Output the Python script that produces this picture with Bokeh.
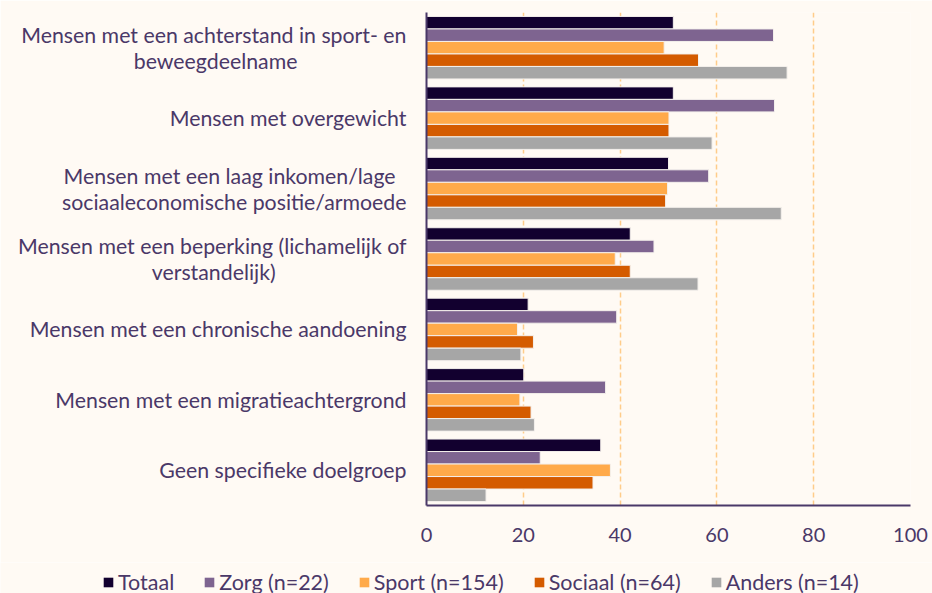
from bokeh.plotting import figure
from bokeh.layouts import column
from bokeh.models import FactorRange, Legend, LegendItem, ColumnDataSource, Range1d, FixedTicker
from bokeh.transform import dodge
from bokeh.embed import file_html
from bokeh.resources import INLINE

categories = [
    "Mensen met een achterstand in sport- en\nbeweegdeelname",
    "Mensen met overgewicht",
    "Mensen met een laag inkomen/lage\nsociaaleconomische positie/armoede",
    "Mensen met een beperking (lichamelijk of\nverstandelijk)",
    "Mensen met een chronische aandoening",
    "Mensen met een migratieachtergrond",
    "Geen specifieke doelgroep",
]
series = ["Totaal", "Zorg (n=22)", "Sport (n=154)", "Sociaal (n=64)", "Anders (n=14)"]
totaal = [51.0, 51.0, 50.0, 42.1, 21.0, 20.1, 36.0]
zorg = [71.7, 71.9, 58.3, 47.0, 39.3, 37.0, 23.5]
sport = [49.1, 50.1, 49.8, 39.0, 18.8, 19.3, 38.0]
sociaal = [56.2, 50.1, 49.4, 42.1, 22.1, 21.6, 34.4]
anders = [74.5, 59.0, 73.3, 56.1, 19.5, 22.3, 12.3]
x_ticks = [0, 20, 40, 60, 80, 100]

colors = ["#12002F", "#7E6490", "#FFAA4A", "#D45B00", "#A6A6A6"]
TEXT = "#4a3868"
BG = "#FFFAF4"
FONT = "Lato"

# axis factors: the category texts, with no-break spaces so that the lines
# of a two-line label sit centred under each other
NB = "\u00a0"
pad_first = {2: 2}
pad_second = {0: 20, 3: 24}
factors = []
for i, c in enumerate(categories):
    lines = c.split("\n")
    if i in pad_first:
        lines[0] = lines[0] + NB * pad_first[i]
    if i in pad_second:
        lines[1] = lines[1] + NB * pad_second[i]
    factors.append("\n".join(lines))

source = ColumnDataSource(dict(cat=factors, s0=totaal, s1=zorg, s2=sport, s3=sociaal, s4=anders))

p = figure(
    width=932, height=562,
    y_range=FactorRange(*reversed(factors), range_padding=0),
    x_range=Range1d(0, 100),
    output_backend="svg", toolbar_location=None,
    min_border_left=426, min_border_right=22, min_border_top=12, min_border_bottom=57,
)
p.background_fill_color = BG
p.border_fill_color = BG
p.outline_line_color = None

bh = 0.1775
offsets = [2 * bh, bh, 0, -bh, -2 * bh]
for i, col in enumerate(colors):
    p.hbar(y=dodge("cat", offsets[i], range=p.y_range), right="s%d" % i, left=0,
           height=bh, source=source, fill_color=col,
           line_color="#f4f0ec", line_width=1)

p.xaxis.ticker = FixedTicker(ticks=x_ticks)
for ax in (p.xaxis, p.yaxis):
    ax.axis_line_color = TEXT
    ax.axis_line_width = 2
    ax.major_tick_line_color = None
    ax.minor_tick_line_color = None
    ax.major_label_text_font = FONT
    ax.major_label_text_color = TEXT
p.xaxis.major_label_text_font_size = "20px"
p.xaxis.major_label_standoff = 16
p.yaxis.major_label_text_font_size = "21.3px"
p.yaxis.major_label_standoff = 14
p.yaxis.major_label_text_line_height = 1.0

p.xgrid.grid_line_color = "#FFCC8A"
p.xgrid.grid_line_width = 1.5
p.xgrid.grid_line_dash = "5 3"
p.ygrid.grid_line_color = None

# legend strip below the chart (its own swatch renderers are hidden)
leg = figure(
    width=932, height=31, x_range=Range1d(1000, 1001),
    y_range=FactorRange(*reversed(factors), range_padding=0),
    output_backend="svg", toolbar_location=None,
    x_axis_location=None, y_axis_location=None,
    min_border_left=0, min_border_right=0, min_border_top=0, min_border_bottom=0,
)
if "frame_align" in leg.properties():
    leg.frame_align = False
leg.background_fill_color = BG
leg.border_fill_color = BG
leg.outline_line_color = None
leg.xgrid.visible = False
leg.ygrid.visible = False
leg_renderers = []
for i, col in enumerate(colors):
    r = leg.hbar(y="cat", right="s%d" % i, left=0, height=bh, source=source,
                 fill_color=col, line_color=None, visible=False)
    leg_renderers.append(r)

legend = Legend(
    items=[LegendItem(label=s, renderers=[r]) for s, r in zip(series, leg_renderers)],
    orientation="horizontal", location=(102, -2),
    glyph_width=12, glyph_height=12, label_standoff=4, spacing=29,
    padding=0, margin=0, border_line_color=None, background_fill_alpha=0,
    inactive_fill_alpha=0,
    label_text_font=FONT, label_text_font_size="21.5px", label_text_color=TEXT,
)
leg.add_layout(legend)

layout = column(p, leg, spacing=0)
open("out.html", "w").write(file_html(layout, INLINE))
